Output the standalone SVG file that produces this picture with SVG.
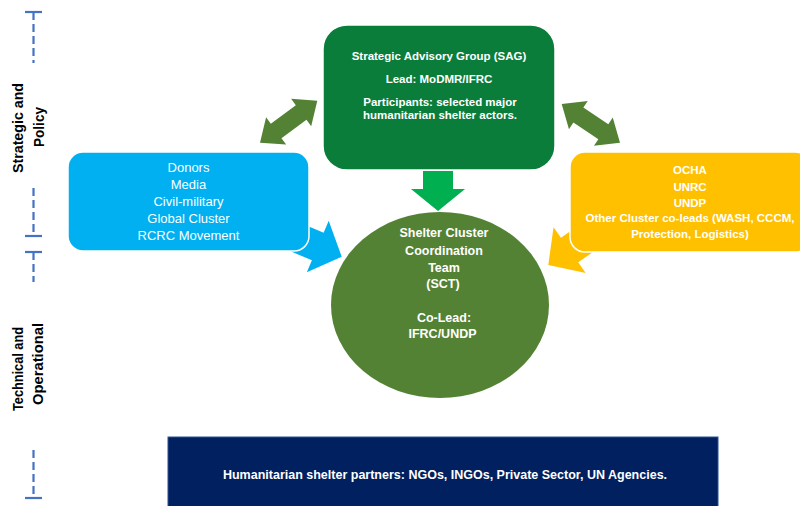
<svg xmlns="http://www.w3.org/2000/svg" width="800" height="506" viewBox="0 0 800 506">
<style>
.axis{stroke:#4472C4;stroke-width:2.2;fill:none}
.dash{stroke-dasharray:8 4}
.lbl{font-family:"Liberation Sans",Arial,sans-serif;font-weight:bold;font-size:14px;fill:#000;text-anchor:middle}
.t{font-family:"Liberation Sans",Arial,sans-serif;fill:#fff;text-anchor:middle}
.b{font-weight:bold}
.node{stroke:#fff;stroke-width:1.5}
.olive{fill:#548235}
</style>
<rect width="800" height="506" fill="#fff"/>
<g id="axis">
<line class="axis" x1="25" y1="12" x2="42" y2="12"/>
<line class="axis dash" x1="33.5" y1="12" x2="33.5" y2="63"/>
<line class="axis dash" x1="33.5" y1="188" x2="33.5" y2="236"/>
<line class="axis" x1="25" y1="236" x2="42" y2="236"/>
<line class="axis" x1="25" y1="252" x2="42" y2="252"/>
<line class="axis dash" x1="33.5" y1="252" x2="33.5" y2="282"/>
<line class="axis dash" x1="33.5" y1="450" x2="33.5" y2="498"/>
<line class="axis" x1="25" y1="498" x2="42" y2="498"/>
<text class="lbl" transform="translate(22.5,128) rotate(-90)" textLength="90" lengthAdjust="spacingAndGlyphs">Strategic and</text>
<text class="lbl" transform="translate(43.5,127) rotate(-90)" textLength="40" lengthAdjust="spacingAndGlyphs">Policy</text>
<text class="lbl" transform="translate(23,369) rotate(-90)" textLength="84" lengthAdjust="spacingAndGlyphs">Technical and</text>
<text class="lbl" transform="translate(42.5,364) rotate(-90)" textLength="82" lengthAdjust="spacingAndGlyphs">Operational</text>
</g>
<g id="connectors">
<polygon class="olive" transform="translate(260,142.7) rotate(-36.2)" points="0,0 20,-17 20,-9 51,-9 51,-17 71,0 51,17 51,9 20,9 20,17"/>
<polygon class="olive" transform="translate(561.7,104) rotate(33.6)" points="0,0 20,-17 20,-9 50,-9 50,-17 70,0 50,17 50,9 20,9 20,17"/>
<polygon fill="#00B050" points="423,171 453,171 453,189 465,189 438,211 411,189 423,189"/>
<polygon fill="#00B0F0" transform="translate(341.7,256.7) rotate(23)" points="0,0 -26,28 -26,15 -60,15 -60,-15 -26,-15 -26,-28"/>
<polygon fill="#FFC000" transform="translate(548.3,265) rotate(145)" points="0,0 -26,28 -26,15 -60,15 -60,-15 -26,-15 -26,-28"/>
</g>
<g id="sag">
<rect class="node" x="323" y="25" width="232" height="145" rx="24" fill="#0A7D3B"/>
<text class="t b" font-size="11.5" x="439" y="60">Strategic Advisory Group (SAG)</text>
<text class="t b" font-size="11.5" x="439" y="83">Lead: MoDMR/IFRC</text>
<text class="t b" font-size="11.5" x="440" y="106">Participants: selected major</text>
<text class="t b" font-size="11.5" x="440" y="119">humanitarian shelter actors.</text>
</g>
<g id="donors">
<rect class="node" x="68" y="152" width="241" height="99" rx="15" fill="#00B0F0"/>
<text class="t" font-size="13" x="188.5" y="172">Donors</text>
<text class="t" font-size="13" x="188.5" y="189">Media</text>
<text class="t" font-size="13" x="188.5" y="206">Civil-military</text>
<text class="t" font-size="13" x="188.5" y="223">Global Cluster</text>
<text class="t" font-size="13" x="188.5" y="240">RCRC Movement</text>
</g>
<g id="others">
<rect class="node" x="570" y="152" width="240" height="100" rx="15" fill="#FFC000"/>
<text class="t b" font-size="11.5" x="690" y="174">OCHA</text>
<text class="t b" font-size="11.5" x="690" y="191">UNRC</text>
<text class="t b" font-size="11.5" x="690" y="207">UNDP</text>
<text class="t b" font-size="11.5" x="690" y="222">Other Cluster co-leads (WASH, CCCM,</text>
<text class="t b" font-size="11.5" x="690" y="238">Protection, Logistics)</text>
</g>
<g id="sct">
<ellipse cx="440" cy="305" rx="109" ry="93" fill="#548235"/>
<text class="t b" font-size="12.5" x="444" y="237">Shelter Cluster</text>
<text class="t b" font-size="12.5" x="444" y="255">Coordination</text>
<text class="t b" font-size="12.5" x="444" y="272">Team</text>
<text class="t b" font-size="12.5" x="443" y="288">(SCT)</text>
<text class="t b" font-size="12.5" x="444" y="322">Co-Lead:</text>
<text class="t b" font-size="12.5" x="442.5" y="338">IFRC/UNDP</text>
</g>
<g id="partners">
<rect x="168" y="437" width="550" height="80" fill="#002060" stroke="#2F528F" stroke-width="1"/>
<text class="t b" font-size="12.5" x="445" y="479">Humanitarian shelter partners: NGOs, INGOs, Private Sector, UN Agencies.</text>
</g>
</svg>
